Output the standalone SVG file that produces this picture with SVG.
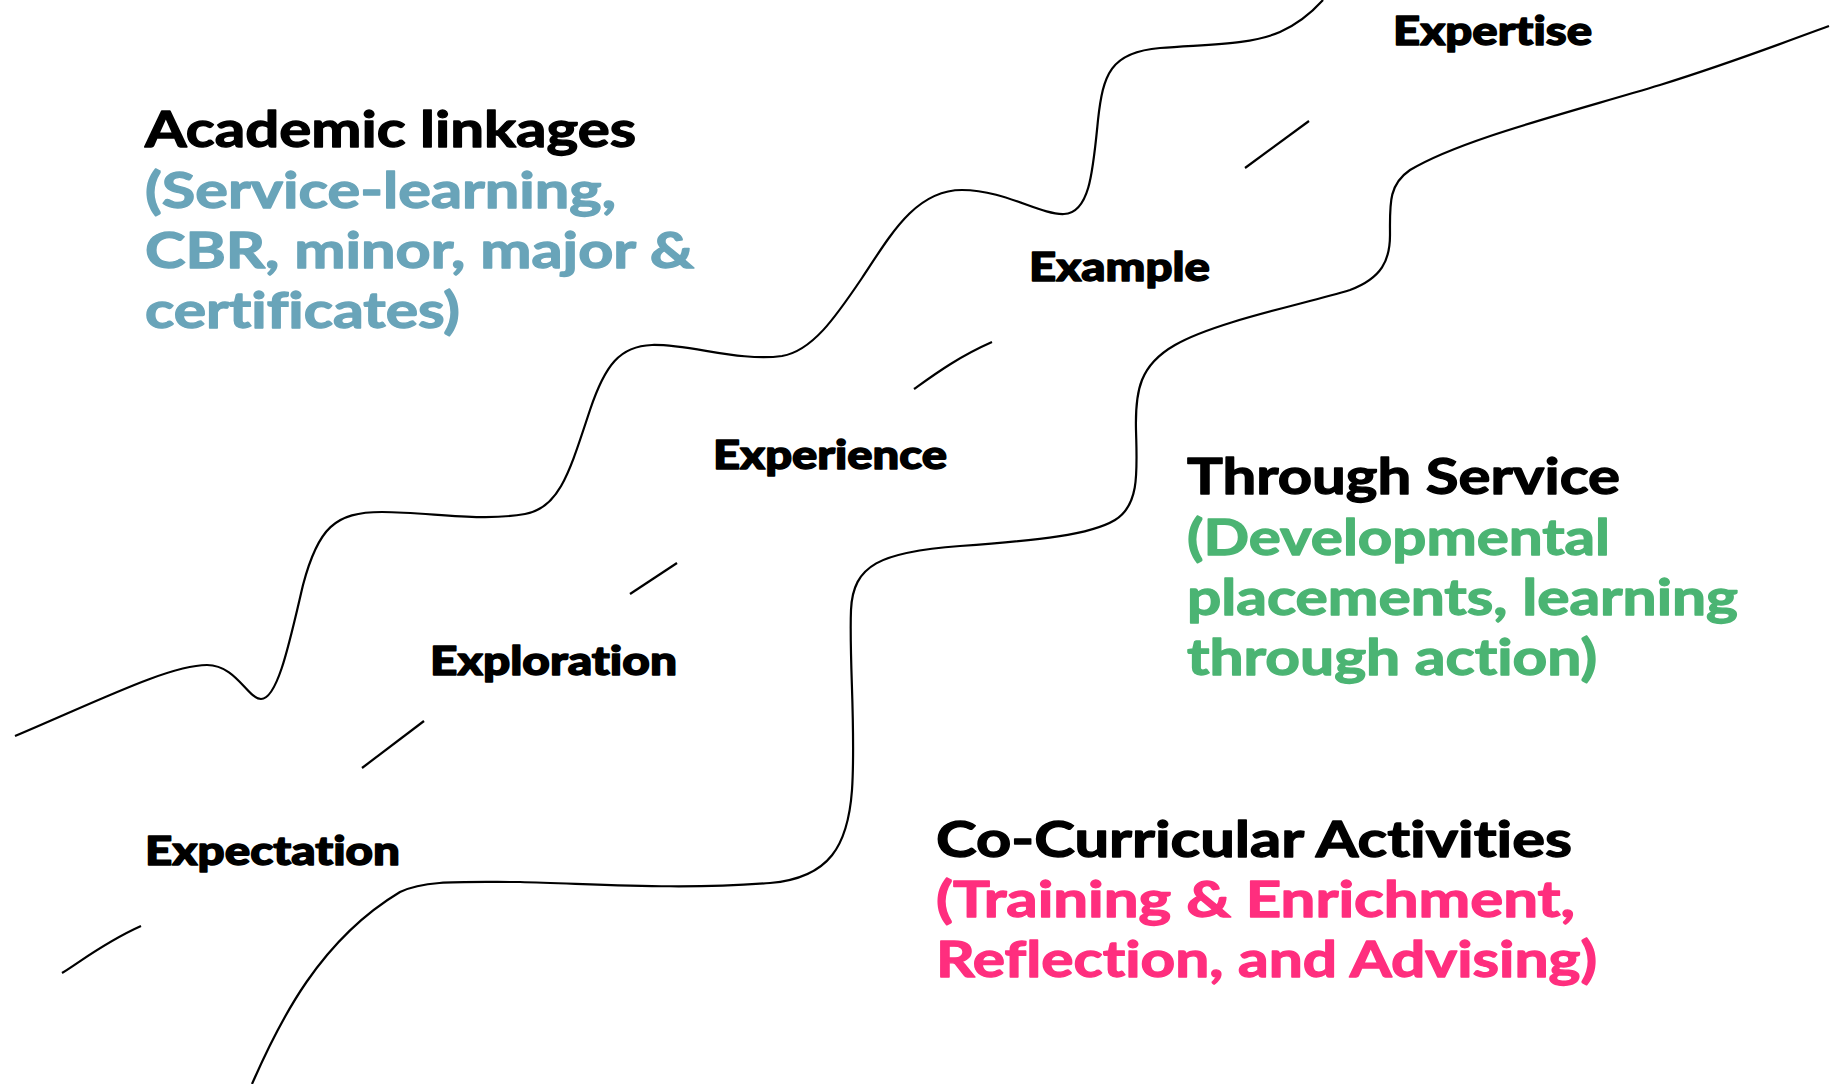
<svg xmlns="http://www.w3.org/2000/svg" width="1837" height="1084" viewBox="0 0 1837 1084">
<style>
.bg{fill:#ffffff}
.curve{fill:none;stroke:#000;stroke-width:2.2;stroke-linecap:butt}
.dash{fill:none;stroke:#000;stroke-width:2.2}
text{font-variant-ligatures:none;font-feature-settings:"liga" 0,"dlig" 0}
.lbl{font-family:Lato,"Open Sans","Liberation Sans",sans-serif;font-weight:900;font-size:40px;fill:#000;stroke:#000;stroke-width:1.4;stroke-linejoin:round}
.head{font-family:Lato,"Open Sans","Liberation Sans",sans-serif;font-weight:700;font-size:50px;fill:#000;stroke:#000;stroke-width:1.3;stroke-linejoin:round}
.blue{fill:#69a4b9;stroke:#69a4b9}
.green{fill:#4bb473;stroke:#4bb473}
.pink{fill:#ff2e7e;stroke:#ff2e7e}
</style>
<rect class="bg" x="0" y="0" width="1837" height="1084"/>
<g id="connectors">
<path class="curve" d="M 15 736 C 100 700, 170 665, 207 665 C 236 665, 248 699, 261 699 C 278 699, 290 640, 303 585 C 318 528, 335 512, 382 512 C 430 512, 480 522, 525 514 C 560 508, 570 470, 590 410 C 605 365, 620 346, 652 345 C 690 344, 740 362, 782 356 C 812 351, 835 318, 862 278 C 890 236, 915 190, 962 190 C 1005 190, 1040 215, 1064 214 C 1090 213, 1093 170, 1098 120 C 1103 75, 1110 52, 1160 48 C 1210 44, 1250 45, 1280 32 C 1300 23, 1314 10, 1323 0"/>
<path class="curve" d="M 252 1084 C 280 1020, 320 940, 400 892 C 425 880, 460 882, 520 882 C 600 884, 680 890, 770 883 C 830 878, 848 845, 852 790 C 856 730, 849 660, 851 610 C 853 565, 880 552, 960 546 C 1040 540, 1090 535, 1115 520 C 1140 505, 1137 470, 1136 430 C 1135 390, 1140 365, 1175 345 C 1215 322, 1300 305, 1350 290 C 1382 278, 1390 260, 1390 235 C 1390 205, 1388 185, 1410 170 C 1460 140, 1560 115, 1660 85 C 1740 60, 1790 40, 1829 26"/>
<path class="dash" d="M 62 973 C 80 962, 105 942, 141 926"/>
<path class="dash" d="M 362 768 L 424 721"/>
<path class="dash" d="M 630 594 L 677 563"/>
<path class="dash" d="M 914 389 C 935 374, 958 357, 992 342"/>
<path class="dash" d="M 1245 168 L 1309 121"/>
</g>
<g id="expectation"><text class="lbl" x="145" y="865" textLength="255" lengthAdjust="spacingAndGlyphs">Expectation</text></g>
<g id="exploration"><text class="lbl" x="430" y="675" textLength="247" lengthAdjust="spacingAndGlyphs">Exploration</text></g>
<g id="experience"><text class="lbl" x="713" y="469" textLength="234" lengthAdjust="spacingAndGlyphs">Experience</text></g>
<g id="example"><text class="lbl" x="1029" y="281" textLength="181" lengthAdjust="spacingAndGlyphs">Example</text></g>
<g id="expertise"><text class="lbl" x="1393" y="45" textLength="199" lengthAdjust="spacingAndGlyphs">Expertise</text></g>
<g id="academic">
<text class="head" x="145" y="147" textLength="491" lengthAdjust="spacingAndGlyphs">Academic linkages</text>
<text class="head blue" x="145" y="208" textLength="471" lengthAdjust="spacingAndGlyphs">(Service-learning,</text>
<text class="head blue" x="145" y="268" textLength="549" lengthAdjust="spacingAndGlyphs">CBR, minor, major &amp;</text>
<text class="head blue" x="145" y="328" textLength="315" lengthAdjust="spacingAndGlyphs">certificates)</text>
</g>
<g id="service">
<text class="head" x="1187" y="494" textLength="433" lengthAdjust="spacingAndGlyphs">Through Service</text>
<text class="head green" x="1187" y="555" textLength="423" lengthAdjust="spacingAndGlyphs">(Developmental</text>
<text class="head green" x="1187" y="615" textLength="551" lengthAdjust="spacingAndGlyphs">placements, learning</text>
<text class="head green" x="1187" y="675" textLength="410" lengthAdjust="spacingAndGlyphs">through action)</text>
</g>
<g id="cocurricular">
<text class="head" x="936" y="857" textLength="636" lengthAdjust="spacingAndGlyphs">Co-Curricular Activities</text>
<text class="head pink" x="936" y="917" textLength="639" lengthAdjust="spacingAndGlyphs">(Training &amp; Enrichment,</text>
<text class="head pink" x="936" y="977" textLength="661" lengthAdjust="spacingAndGlyphs">Reflection, and Advising)</text>
</g>
</svg>
